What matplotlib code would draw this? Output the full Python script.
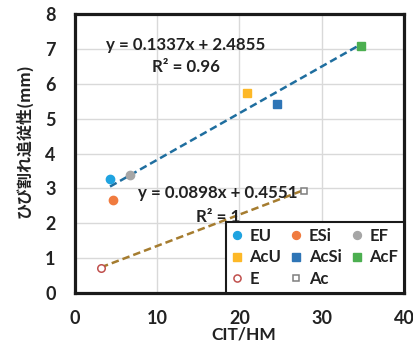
import matplotlib
matplotlib.use("Agg")
import matplotlib.pyplot as plt
import numpy as np

plt.rcParams['font.family'] = ['Lato', 'Noto Sans CJK JP', 'DejaVu Sans']

labels = ["EU", "ESi", "EF", "AcU", "AcSi", "AcF", "E", "Ac"]
x_vals = [4.26, 4.66, 6.69, 20.95, 24.56, 34.77, 3.16, 27.84]
y_vals = [3.28, 2.67, 3.38, 5.75, 5.43, 7.09, 0.71, 2.92]
markers = ["o", "o", "o", "s", "s", "s", "o", "s"]
colors = ["#1FA3E0", "#F07B3F", "#A6A6A6", "#FDB827", "#2E75B6", "#4CAF50", "#C0504D", "#7F7F7F"]
filled = [True, True, True, True, True, True, False, False]

fit1 = (0.1337, 2.4855)
fit1_range = [4.26, 34.77]
fit2 = (0.0898, 0.4551)
fit2_range = [3.16, 27.84]

fig = plt.figure(figsize=(4.13, 3.44), dpi=100)
ax = fig.add_axes([0.1816, 0.148, 0.7964, 0.811])

xs = np.array(fit1_range)
ax.plot(xs, fit1[0] * xs + fit1[1], ls=(0, (3, 1.6)), color="#1F6E9F", lw=1.8, zorder=2)
xs = np.array(fit2_range)
ax.plot(xs, fit2[0] * xs + fit2[1], ls=(0, (3, 1.6)), color="#A57C2F", lw=1.8, zorder=2)

handles = {}
for lab, x, y, m, c, f in zip(labels, x_vals, y_vals, markers, colors, filled):
    ms = 6 if m == "o" else 5.6
    if f:
        h, = ax.plot([x], [y], marker=m, ls="none", color=c, ms=ms, mec=c, zorder=3)
    else:
        h, = ax.plot([x], [y], marker=m, ls="none", mfc="white", mec=c, ms=ms - 0.6, mew=1.1, zorder=3)
    handles[lab] = h

ax.set_xlim(0, 40)
ax.set_ylim(0, 8)
ax.set_xticks([0, 10, 20, 30, 40])
ax.set_yticks(range(0, 9))
ax.grid(True, color="#D9D9D9", lw=1)
ax.set_axisbelow(True)
for s in ax.spines.values():
    s.set_linewidth(2.3)
    s.set_color("#1a1a1a")
ax.tick_params(length=0, labelsize=13)
ax.tick_params(axis="y", pad=14)
ax.tick_params(axis="x", pad=12)
for t in ax.get_xticklabels() + ax.get_yticklabels():
    t.set_fontweight("bold")
    t.set_color("#222222")

ax.set_xlabel("CIT/HM", fontsize=12.5, fontweight="bold", color="#222222")
ax.xaxis.set_label_coords(0.514, -0.118)
ax.set_ylabel("ひび割れ追従性(mm)", fontsize=11.5, fontweight="bold", color="#222222",
              family=['Noto Sans CJK JP', 'DejaVu Sans'])
ax.yaxis.set_label_coords(-0.128, 0.548)

ax.text(13.5, 7.1, "y = 0.1337x + 2.4855", ha="center", va="center", fontsize=12.2, fontweight="bold", color="#222222")
ax.text(13.5, 6.48, "R² = 0.96", ha="center", va="center", fontsize=12.2, fontweight="bold", color="#222222")
ax.text(17.4, 2.87, "y = 0.0898x + 0.4551", ha="center", va="center", fontsize=12.2, fontweight="bold", color="#222222")
ax.text(17.4, 2.18, "R² = 1", ha="center", va="center", fontsize=12.2, fontweight="bold", color="#222222")

order = ["EU", "AcU", "E", "ESi", "AcSi", "Ac", "EF", "AcF"]
leg = ax.legend([handles[k] for k in order], order, ncol=3, loc="lower right",
                bbox_to_anchor=(1.0, 0.0), frameon=True, fancybox=False,
                prop={'weight': 'bold', 'size': 12}, handlelength=0.6, handletextpad=0.45,
                columnspacing=0.6, labelspacing=0.35, borderpad=0.35, markerscale=0.95,
                borderaxespad=0)
leg.get_frame().set_edgecolor("#1a1a1a")
leg.get_frame().set_linewidth(1.5)
leg.get_frame().set_alpha(1)
for t in leg.get_texts():
    t.set_color("#222222")

fig.savefig("out.png", dpi=100)
